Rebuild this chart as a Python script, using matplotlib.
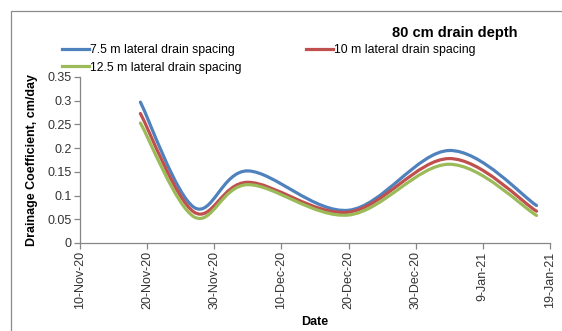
import matplotlib
matplotlib.use("Agg")
import matplotlib.pyplot as plt
import matplotlib.dates as mdates
from matplotlib.path import Path
from matplotlib.patches import PathPatch, Rectangle
from matplotlib.lines import Line2D
from datetime import datetime
import numpy as np

plt.rcParams["font.family"] = ["Liberation Sans", "DejaVu Sans"]

# data
dates = ["2020-11-19", "2020-11-27", "2020-12-05", "2020-12-20", "2021-01-04", "2021-01-17"]
spacing_7_5 = [0.297, 0.075, 0.152, 0.069, 0.195, 0.079]
spacing_10 = [0.273, 0.065, 0.128, 0.065, 0.178, 0.067]
spacing_12_5 = [0.253, 0.055, 0.123, 0.059, 0.166, 0.058]

series_labels = ["7.5 m lateral drain spacing", "10 m lateral drain spacing", "12.5 m lateral drain spacing"]
colors = ["#4F81BD", "#C0504D", "#9BBB59"]
tick_dates = ["2020-11-10", "2020-11-20", "2020-11-30", "2020-12-10",
              "2020-12-20", "2020-12-30", "2021-01-09", "2021-01-19"]


def smooth_path(x, y, tension=1 / 6):
    """Excel-like smoothed line as cubic Bezier path through the points."""
    pts = np.column_stack([x, y])
    verts = [pts[0]]
    codes = [Path.MOVETO]
    n = len(pts)
    for i in range(n - 1):
        p0 = pts[i - 1] if i > 0 else pts[i]
        p1 = pts[i]
        p2 = pts[i + 1]
        p3 = pts[i + 2] if i + 2 < n else pts[i + 1]
        c1 = p1 + (p2 - p0) * tension
        c2 = p2 - (p3 - p1) * tension
        verts += [c1, c2, p2]
        codes += [Path.CURVE4] * 3
    return Path(verts, codes)


fig = plt.figure(figsize=(5.62, 3.31), dpi=100)
ax = fig.add_axes([0.1423, 0.2659, 0.8363, 0.5015])

# chart border
fig.patches.append(Rectangle((11 / 562, -0.1), 1.2, (331 - 11) / 331 + 0.1,
                             transform=fig.transFigure, fill=False,
                             edgecolor="#8c8c8c", linewidth=0.9))

x = mdates.date2num([datetime.strptime(d, "%Y-%m-%d") for d in dates])
handles = []
for vals, col, lab in zip([spacing_7_5, spacing_10, spacing_12_5], colors, series_labels):
    patch = PathPatch(smooth_path(x, np.array(vals)), facecolor="none",
                      edgecolor=col, linewidth=2.3, capstyle="round")
    ax.add_patch(patch)
    handles.append(Line2D([], [], color=col, linewidth=2.3, label=lab))

ticks = mdates.date2num([datetime.strptime(d, "%Y-%m-%d") for d in tick_dates])
ax.set_xlim(ticks[0], ticks[-1])
ax.set_ylim(0, 0.35)
ax.set_xticks(ticks)
ax.set_xticklabels([f"{datetime.strptime(d, '%Y-%m-%d').day}-"
                    f"{datetime.strptime(d, '%Y-%m-%d').strftime('%b-%y')}" for d in tick_dates],
                   rotation=90, fontsize=9, color="#333333")
ax.set_yticks(np.arange(0, 0.351, 0.05))
ax.set_yticklabels(["0", "0.05", "0.1", "0.15", "0.2", "0.25", "0.3", "0.35"],
                   fontsize=9, color="#333333")

for s in ["top", "right"]:
    ax.spines[s].set_visible(False)
for s in ["left", "bottom"]:
    ax.spines[s].set_color("#868686")
    ax.spines[s].set_linewidth(0.9)
ax.tick_params(direction="out", length=4, color="#868686", width=0.9, pad=2)

ax.set_xlabel("Date", fontsize=9, fontweight="bold", labelpad=5)
ax.set_ylabel("Drainage Coefficient, cm/day", fontsize=9, fontweight="bold", labelpad=7)

fig.text(518 / 562, 1 - 33 / 331, "80 cm drain depth", ha="right", va="center",
         fontsize=10.5, fontweight="bold")

# legend: matplotlib fills columns first, so reorder to get Excel row order
order = [0, 2, 1]
fig.legend([handles[i] for i in order], [series_labels[i] for i in order],
           ncol=2, loc="upper left", bbox_to_anchor=(62 / 562, 1 - 44 / 331),
           frameon=False, fontsize=8.8, handlelength=2.2, handletextpad=0.1,
           columnspacing=5.3, labelspacing=0.45, borderaxespad=0, borderpad=0)

fig.savefig("out.png", dpi=100)
